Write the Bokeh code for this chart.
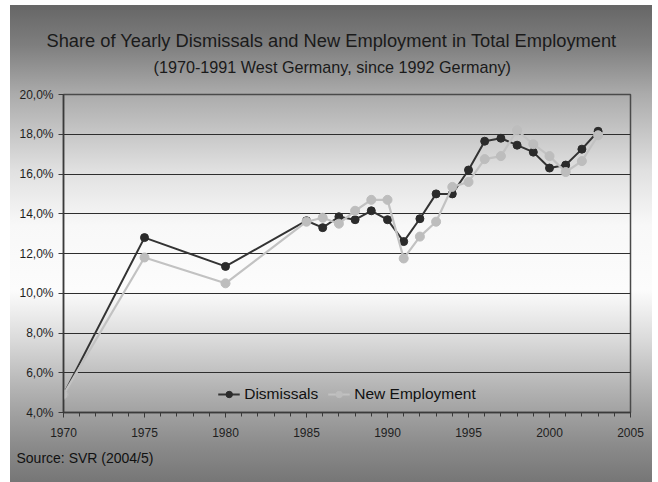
from bokeh.plotting import figure
from bokeh.models import FixedTicker, Legend, LegendItem, Title, Range1d
from bokeh.embed import file_html
from bokeh.resources import INLINE

# ---- data ----
years = [1970, 1975, 1980, 1985, 1986, 1987, 1988, 1989, 1990, 1991, 1992,
         1993, 1994, 1995, 1996, 1997, 1998, 1999, 2000, 2001, 2002, 2003]
dismissals = [4.9, 12.8, 11.35, 13.65, 13.3, 13.85, 13.7, 14.15, 13.7, 12.6, 13.75,
              15.0, 15.0, 16.2, 17.65, 17.8, 17.45, 17.1, 16.3, 16.45, 17.25, 18.15]
new_employment = [4.9, 11.8, 10.5, 13.6, 13.8, 13.5, 14.15, 14.7, 14.7, 11.75, 12.85,
                  13.6, 15.35, 15.6, 16.75, 16.9, 18.2, 17.5, 16.9, 16.1, 16.65, 17.95]
x_ticks = [1970, 1975, 1980, 1985, 1990, 1995, 2000, 2005]
y_ticks = [4, 6, 8, 10, 12, 14, 16, 18, 20]
y_tick_labels = ["4,0%", "6,0%", "8,0%", "10,0%", "12,0%", "14,0%", "16,0%", "18,0%", "20,0%"]
title_text = "Share of Yearly Dismissals and New Employment in Total Employment"
subtitle_text = "(1970-1991 West Germany, since 1992 Germany)"
source_text = "Source: SVR (2004/5)"

FONT = "Liberation Sans"

p = figure(width=658, height=482, output_backend="svg", toolbar_location=None,
           x_range=Range1d(1970, 2005), y_range=Range1d(4, 20),
           min_border_left=63, min_border_right=28, min_border_top=94, min_border_bottom=70)

p.border_fill_color = None
p.background_fill_color = None
p.outline_line_color = "#4a4a4a"
p.outline_line_width = 1.5
p.styles = {
    "background": (
        "linear-gradient(to right, #ffffff 0px, #ffffff 10px, rgba(255,255,255,0) 10px, "
        "rgba(255,255,255,0) 652px, #ffffff 652px), "
        "linear-gradient(to bottom, #ffffff 0px, #ffffff 5px, #666666 5px, #7e7e7e 45px, "
        "#ababab 94px, #e0e0e0 170px, #f8f8f8 225px, #fcfcfc 290px, #dadada 340px, "
        "#b2b2b2 390px, #a2a2a2 412px, #8b8b8b 445px, #767676 482px)"
    )
}

# axes
p.xaxis.ticker = FixedTicker(ticks=x_ticks, minor_ticks=list(range(1970, 2006)))
p.yaxis.ticker = FixedTicker(ticks=y_ticks)
p.yaxis.major_label_overrides = dict(zip(y_ticks, y_tick_labels))
for ax in (p.xaxis[0], p.yaxis[0]):
    ax.axis_line_color = "#3a3a3a"
    ax.axis_line_width = 1.5
    ax.major_tick_line_color = "#3a3a3a"
    ax.minor_tick_line_color = "#3a3a3a"
    ax.major_tick_in = 0
    ax.major_tick_out = 5
    ax.minor_tick_in = 0
    ax.minor_tick_out = 4
    ax.major_label_text_font = FONT
    ax.major_label_text_font_size = "12px"
    ax.major_label_text_color = "#1e1e1e"
p.yaxis.minor_tick_line_color = None
p.yaxis.major_label_standoff = 5
p.xaxis.major_label_standoff = 10

p.xgrid.grid_line_color = None
p.ygrid.grid_line_color = "#2e2e2e"
p.ygrid.grid_line_width = 1.2

# series
d_line = p.line(years, dismissals, line_color="#333333", line_width=2)
d_pts = p.scatter(years, dismissals, size=8, fill_color="#2b2b2b", line_color="#2b2b2b")
n_line = p.line(years, new_employment, line_color="#c2c2c2", line_width=2.2)
n_pts = p.scatter(years, new_employment, size=9, fill_color="#bdbdbd", line_color="#bdbdbd")

# titles (subtitle added first -> closest to the frame)
subtitle = Title(text=subtitle_text, align="left", offset=90, vertical_align="top", standoff=34,
                 text_font=FONT, text_font_size="16.2px", text_font_style="normal",
                 text_color="#1a1a1a")
title = Title(text=title_text, align="left", offset=-17, vertical_align="bottom", standoff=-20,
              text_font=FONT, text_font_size="18.3px", text_font_style="normal",
              text_color="#1a1a1a")
p.add_layout(subtitle, "above")
p.add_layout(title, "above")

# legend inside the frame, along its bottom edge
legend = Legend(items=[LegendItem(label="Dismissals", renderers=[d_line, d_pts]),
                       LegendItem(label="New Employment", renderers=[n_line, n_pts])],
                orientation="horizontal", location="bottom_center",
                background_fill_alpha=0, border_line_color=None,
                label_text_font=FONT, label_text_font_size="15.5px",
                label_text_color="#111111", glyph_width=22, glyph_height=16,
                label_height=20, label_standoff=5, spacing=9, padding=0, margin=8)
p.add_layout(legend, "center")

source = Title(text=source_text, align="left", offset=-47, vertical_align="top", standoff=20,
               text_font=FONT, text_font_size="14px", text_font_style="normal",
               text_color="#111111")
p.add_layout(source, "below")

open("out.html", "w").write(file_html(p, INLINE))
